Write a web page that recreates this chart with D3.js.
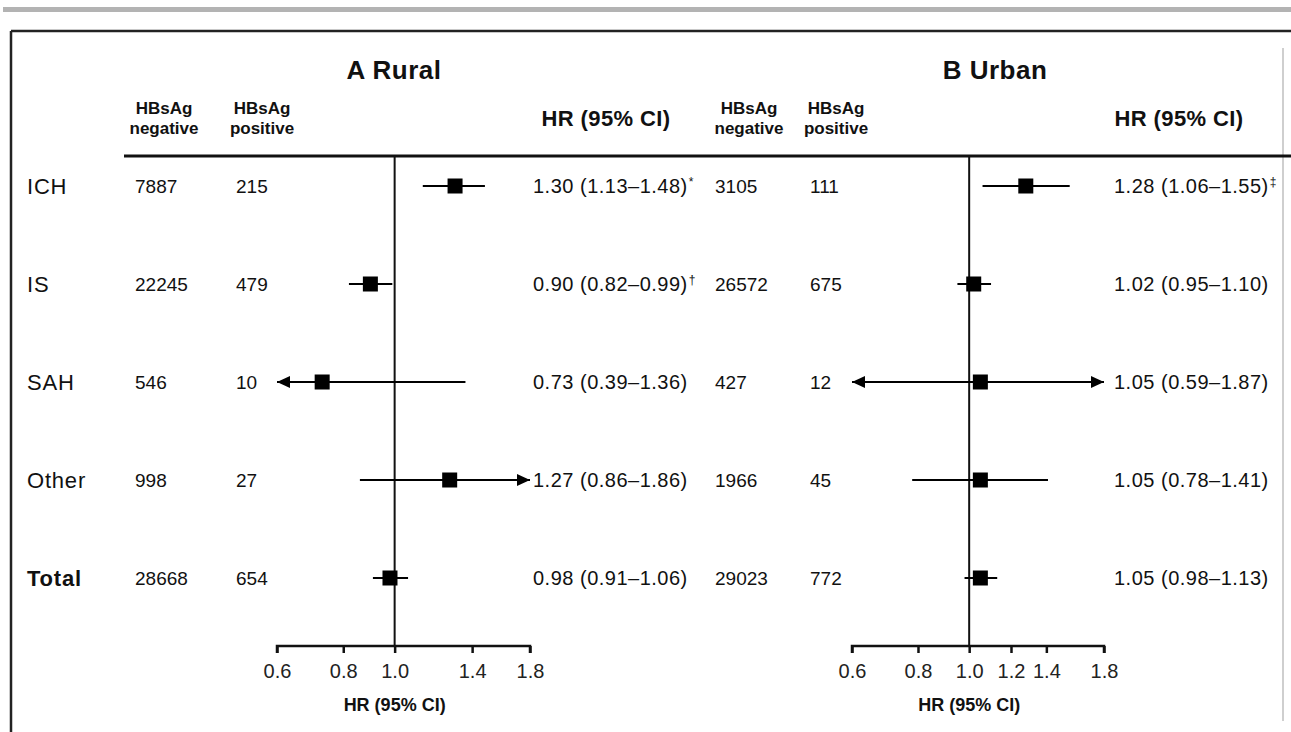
<!DOCTYPE html>
<html>
<head>
<meta charset="utf-8">
<script src="https://cdn.jsdelivr.net/npm/d3@7"></script>
<style>
  body { margin: 0; background: #fff; }
  svg { display: block; font-family: "Liberation Sans", Arial, sans-serif; }
</style>
</head>
<body>
<div id="chart"></div>
<script>
// categories (rows)
const categories = ["ICH", "IS", "SAH", "Other", "Total"];

// A Rural
const ruralNeg = [7887, 22245, 546, 998, 28668];
const ruralPos = [215, 479, 10, 27, 654];
const ruralHR = [1.30, 0.90, 0.73, 1.27, 0.98];
const ruralLo = [1.13, 0.82, 0.39, 0.86, 0.91];
const ruralHi = [1.48, 0.99, 1.36, 1.86, 1.06];
const ruralMark = ["*", "†", "", "", ""];
const ruralTicks = [0.6, 0.8, 1.0, 1.4, 1.8];

// B Urban
const urbanNeg = [3105, 26572, 427, 1966, 29023];
const urbanPos = [111, 675, 12, 45, 772];
const urbanHR = [1.28, 1.02, 1.05, 1.05, 1.05];
const urbanLo = [1.06, 0.95, 0.59, 0.78, 0.98];
const urbanHi = [1.55, 1.10, 1.87, 1.41, 1.13];
const urbanMark = ["‡", "", "", "", ""];
const urbanTicks = [0.6, 0.8, 1.0, 1.2, 1.4, 1.8];

const W = 1291, H = 732;
const svg = d3.select("#chart").append("svg")
    .attr("width", W)
    .attr("height", H);

// frame bits
svg.append("rect").attr("x", 3).attr("y", 7).attr("width", W - 3).attr("height", 5).attr("fill", "#b3b3b3");
svg.append("line").attr("x1", 11).attr("x2", W).attr("y1", 31).attr("y2", 31)
    .attr("stroke", "#222").attr("stroke-width", 2.5);
svg.append("line").attr("x1", 11).attr("x2", 11).attr("y1", 31).attr("y2", H)
    .attr("stroke", "#222").attr("stroke-width", 2.5);
svg.append("line").attr("x1", 1283).attr("x2", 1283).attr("y1", 48).attr("y2", 721)
    .attr("stroke", "#cfcfcf").attr("stroke-width", 2);

// header rule
svg.append("line").attr("x1", 124).attr("x2", W).attr("y1", 156).attr("y2", 156)
    .attr("stroke", "#111").attr("stroke-width", 3);

const y = d3.scalePoint().domain(categories).range([186, 578]);
const axisY = 646;

// row labels
svg.append("g").selectAll("text")
    .data(categories)
    .join("text")
    .attr("x", 27)
    .attr("y", d => y(d))
    .attr("dy", "0.35em")
    .attr("font-size", 22)
    .attr("letter-spacing", 0.8)
    .attr("font-weight", d => d === "Total" ? "bold" : "normal")
    .attr("fill", "#111")
    .text(d => d);

const panels = [
    { title: "A Rural", titleX: 394, neg: ruralNeg, pos: ruralPos, hr: ruralHR, lo: ruralLo, hi: ruralHi,
      mark: ruralMark, ticks: ruralTicks, range: [277, 530], negX: 135, posX: 236,
      negHead: 164, posHead: 262, hrX: 533, hrHead: 606 },
    { title: "B Urban", titleX: 995, neg: urbanNeg, pos: urbanPos, hr: urbanHR, lo: urbanLo, hi: urbanHi,
      mark: urbanMark, ticks: urbanTicks, range: [852, 1104], negX: 715, posX: 810,
      negHead: 749, posHead: 836, hrX: 1114, hrHead: 1179 }
];

panels.forEach(p => {
    const g = svg.append("g");
    const x = d3.scaleLog().domain([0.6, 1.8]).range(p.range);

    g.append("text")
        .attr("x", p.titleX).attr("y", 79)
        .attr("text-anchor", "middle")
        .attr("font-size", 26).attr("font-weight", "bold")
        .attr("letter-spacing", 0.5)
        .attr("fill", "#111")
        .text(p.title);

    // column headers
    [[p.negHead, "negative"], [p.posHead, "positive"]].forEach(([cx, word]) => {
        const t = g.append("text")
            .attr("text-anchor", "middle")
            .attr("font-size", 17).attr("font-weight", "bold").attr("fill", "#111");
        t.append("tspan").attr("x", cx).attr("y", 114).text("HBsAg");
        t.append("tspan").attr("x", cx).attr("y", 134).text(word);
    });
    g.append("text")
        .attr("x", p.hrHead).attr("y", 126)
        .attr("text-anchor", "middle")
        .attr("font-size", 22).attr("font-weight", "bold").attr("fill", "#111")
        .attr("letter-spacing", 0.4)
        .text("HR (95% CI)");

    const rows = categories.map((c, i) => ({
        cat: c, neg: p.neg[i], pos: p.pos[i], hr: p.hr[i], lo: p.lo[i], hi: p.hi[i], mark: p.mark[i]
    }));

    // counts
    g.append("g").selectAll("text")
        .data(rows).join("text")
        .attr("x", p.negX).attr("y", d => y(d.cat)).attr("dy", "0.35em")
        .attr("font-size", 19).attr("fill", "#111")
        .text(d => d.neg);
    g.append("g").selectAll("text")
        .data(rows).join("text")
        .attr("x", p.posX).attr("y", d => y(d.cat)).attr("dy", "0.35em")
        .attr("font-size", 19).attr("fill", "#111")
        .text(d => d.pos);

    // HR text
    const hrT = g.append("g").selectAll("text")
        .data(rows).join("text")
        .attr("x", p.hrX).attr("y", d => y(d.cat)).attr("dy", "0.35em")
        .attr("font-size", 20).attr("fill", "#111");
    hrT.append("tspan")
        .attr("letter-spacing", 0.5)
        .text(d => `${d.hr.toFixed(2)} (${d.lo.toFixed(2)}–${d.hi.toFixed(2)})`);
    hrT.append("tspan")
        .attr("dy", "-0.6em").attr("dx", 1)
        .attr("font-size", 12)
        .text(d => d.mark);

    // reference line at 1.0
    g.append("line")
        .attr("x1", x(1)).attr("x2", x(1))
        .attr("y1", 156).attr("y2", axisY)
        .attr("stroke", "#111").attr("stroke-width", 2);

    // axis
    const axis = g.append("g")
        .attr("transform", `translate(0,${axisY})`)
        .call(d3.axisBottom(x).tickValues(p.ticks).tickFormat(d3.format(".1f")).tickSize(7).tickPadding(11));
    axis.select(".domain").attr("stroke", "#111").attr("stroke-width", 2.5)
        .attr("d", `M${p.range[0]},7V0H${p.range[1]}V7`);
    axis.selectAll(".tick line").attr("stroke", "#111").attr("stroke-width", 2.5);
    axis.selectAll(".tick text").attr("font-size", 20).attr("fill", "#222")
        .attr("font-family", "Liberation Sans, Arial, sans-serif");

    g.append("text")
        .attr("x", x(1)).attr("y", 711)
        .attr("text-anchor", "middle")
        .attr("font-size", 18).attr("font-weight", "bold").attr("fill", "#111")
        .text("HR (95% CI)");

    // CI lines, clipped to the axis range
    const [d0, d1] = x.domain();
    g.append("g").selectAll("line")
        .data(rows).join("line")
        .attr("x1", d => x(Math.max(d.lo, d0)))
        .attr("x2", d => x(Math.min(d.hi, d1)))
        .attr("y1", d => y(d.cat)).attr("y2", d => y(d.cat))
        .attr("stroke", "#000").attr("stroke-width", 2.2);

    // arrowheads where the CI runs past the axis
    const arrows = [];
    rows.forEach(d => {
        if (d.lo < d0) arrows.push({ cat: d.cat, side: -1 });
        if (d.hi > d1) arrows.push({ cat: d.cat, side: 1 });
    });
    g.append("g").selectAll("path")
        .data(arrows).join("path")
        .attr("d", d => {
            const tipX = d.side < 0 ? x(d0) : x(d1);
            const cy = y(d.cat);
            const back = tipX - d.side * 13;
            return `M${tipX},${cy}L${back},${cy - 6}L${back},${cy + 6}Z`;
        })
        .attr("fill", "#000");

    // point estimate squares
    const s = 15;
    g.append("g").selectAll("rect")
        .data(rows).join("rect")
        .attr("x", d => x(d.hr) - s / 2)
        .attr("y", d => y(d.cat) - s / 2)
        .attr("width", s).attr("height", s)
        .attr("fill", "#000");
});
</script>
</body>
</html>
